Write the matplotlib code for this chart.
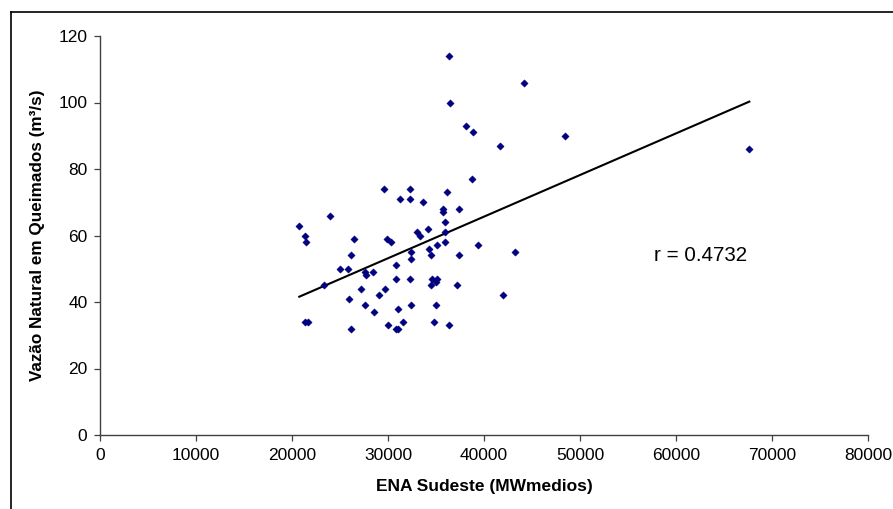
import numpy as np
import matplotlib
matplotlib.use("Agg")
import matplotlib.pyplot as plt
from matplotlib.lines import Line2D

plt.rcParams['font.family'] = ['Liberation Sans', 'DejaVu Sans']

ena_sudeste = [20760, 21350, 21460, 21350, 21700, 23370, 23960, 25000, 25800, 25900,
               26110, 26110, 26490, 27150, 27600, 27680, 27600, 28400, 28540, 29060,
               29550, 29650, 29930, 30280, 29970, 30800, 30800, 30830, 31010, 31010,
               31250, 31600, 32290, 32290, 32360, 32400, 32290, 32400, 33060, 33300,
               33650, 34200, 34300, 34450, 34450, 34760, 34550, 35070, 34970, 35140,
               35000, 35690, 35690, 35940, 35940, 35940, 36150, 36390, 36460, 36390,
               37150, 37400, 37400, 38090, 38890, 38750, 39340, 41700, 41940, 43190,
               44200, 48440, 67640]
vazao = [63, 60, 58, 34, 34, 45, 66, 50, 50, 41,
         54, 32, 59, 44, 49, 48, 39, 49, 37, 42,
         74, 44, 59, 58, 33, 51, 47, 32, 32, 38,
         71, 34, 74, 71, 55, 53, 47, 39, 61, 60,
         70, 62, 56, 54, 45, 34, 47, 47, 46, 57,
         39, 68, 67, 64, 61, 58, 73, 114, 100, 33,
         45, 68, 54, 93, 91, 77, 57, 87, 42, 55,
         106, 90, 86]
r_label = "r = 0.4732"
x_ticks = [0, 10000, 20000, 30000, 40000, 50000, 60000, 70000, 80000]
y_ticks = [0, 20, 40, 60, 80, 100, 120]

x = np.array(ena_sudeste, dtype=float)
y = np.array(vazao, dtype=float)

fig = plt.figure(figsize=(8.93, 5.09), dpi=100)
# outer chart frame (only left and top edges visible)
fx = 10.5 / 893
fy = 1 - 11.5 / 509
fig.lines.append(Line2D([fx, fx], [0, fy], transform=fig.transFigure, color='black', linewidth=1.2))
fig.lines.append(Line2D([fx, 1], [fy, fy], transform=fig.transFigure, color='black', linewidth=1.2))

ax = fig.add_axes([100/893, 1 - 435/509, 768/893, 399/509])

ax.scatter(x, y, marker='D', s=14, color='#000080', edgecolors='#000080', linewidths=0.3, zorder=3)

slope, intercept = np.polyfit(x, y, 1)
xl = np.array([x.min(), x.max()])
ax.plot(xl, slope * xl + intercept, color='black', linewidth=1.5, zorder=2)

ax.text(57700, 54, r_label, fontsize=14.8, va='center', ha='left')

ax.set_xlim(0, 80000)
ax.set_ylim(0, 120)
ax.set_xticks(x_ticks)
ax.set_yticks(y_ticks)
ax.tick_params(labelsize=12.5, length=4, width=0.9, direction='out', color='#404040', pad=5)
for s in ['left', 'bottom']:
    ax.spines[s].set_color('#404040')
    ax.spines[s].set_linewidth(1.0)
ax.spines['top'].set_visible(False)
ax.spines['right'].set_visible(False)
ax.set_xlabel('ENA Sudeste (MWmedios)', fontsize=12.5, fontweight='bold', labelpad=12)
ax.set_ylabel('Vazão Natural em Queimados (m³/s)', fontsize=12.3, fontweight='bold', labelpad=10)

fig.savefig('out.png', dpi=100)
